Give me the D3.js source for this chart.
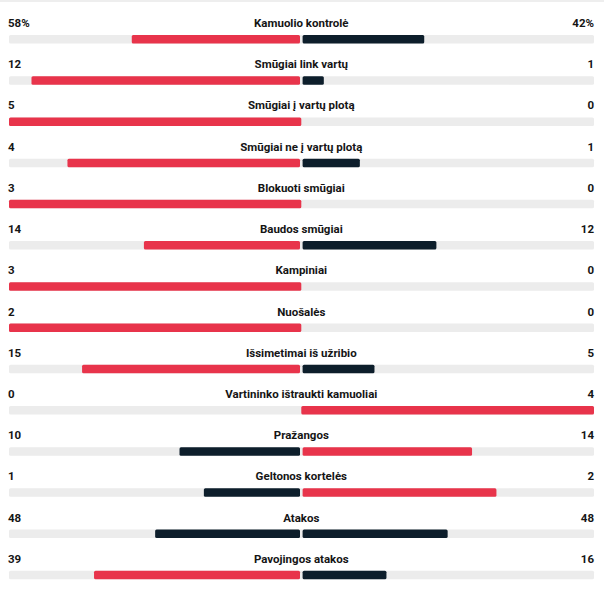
<!DOCTYPE html>
<html><head><meta charset="utf-8">
<script src="https://cdn.jsdelivr.net/npm/d3@7"></script>
<style>body{margin:0;background:#fff}</style>
</head><body><svg id="c" width="612" height="590"></svg>
<script>
const categories = ["Kamuolio kontrolė","Smūgiai link vartų","Smūgiai į vartų plotą","Smūgiai ne į vartų plotą","Blokuoti smūgiai","Baudos smūgiai","Kampiniai","Nuošalės","Išsimetimai iš užribio","Vartininko ištraukti kamuoliai","Pražangos","Geltonos kortelės","Atakos","Pavojingos atakos"];
const homeValues = [58,12,5,4,3,14,3,2,15,0,10,1,48,39];
const awayValues = [42,1,0,1,0,12,0,0,5,4,14,2,48,16];
const suffixes = ["%","","","","","","","","","","","","",""];

const svg = d3.select("#c");
const left = 9, right = 594, center = 301.3, gap = 1.3;
const RED = "#e8344b", DARK = "#0d1e2b", TRACK = "#ececec";
svg.append("rect").attr("x",0).attr("y",0).attr("width",604).attr("height",2).attr("fill","#eeeeee");

const y = d3.scaleBand().domain(categories).range([10, 587]).paddingInner(0);
const lScale = d3.scaleLinear().domain([0,1]).range([0, center - left]);
const rScale = d3.scaleLinear().domain([0,1]).range([0, right - center]);
const font = "Roboto, sans-serif";

categories.forEach((c,i)=>{
  const y0 = y(c);
  const g = svg.append("g").attr("transform",`translate(0,${y0})`);
  const h = homeValues[i], a = awayValues[i];
  const tot = h + a;
  const hf = tot ? h/tot : 0, af = tot ? a/tot : 0;
  const hCol = h > a ? RED : DARK, aCol = a > h ? RED : DARK;
  const txt = (x, anchor, s) => g.append("text").attr("x",x).attr("y",17).attr("text-anchor",anchor).text(s)
    .attr("font-family",font).attr("font-weight",700).attr("font-size",11.5).attr("fill","#151515");
  txt(left-1, "start", h + suffixes[i]);
  txt(right, "end", a + suffixes[i]);
  txt(center, "middle", c);
  g.append("rect").attr("x",left).attr("y",25).attr("width",right-left).attr("height",8.5)
    .attr("rx",1.5).attr("fill",TRACK);
  if (hf>0) {
    const w = lScale(hf) - (hf===1 ? 0 : gap);
    g.append("rect").attr("x",center - (hf===1?0:gap) - w).attr("y",25)
      .attr("width",w).attr("height",8.5).attr("rx",1.5).attr("fill",hCol);
  }
  if (af>0) {
    const w = rScale(af) - (af===1 ? 0 : gap);
    g.append("rect").attr("x",center + (af===1?0:gap)).attr("y",25)
      .attr("width",w).attr("height",8.5).attr("rx",1.5).attr("fill",aCol);
  }
});
</script></body></html>
